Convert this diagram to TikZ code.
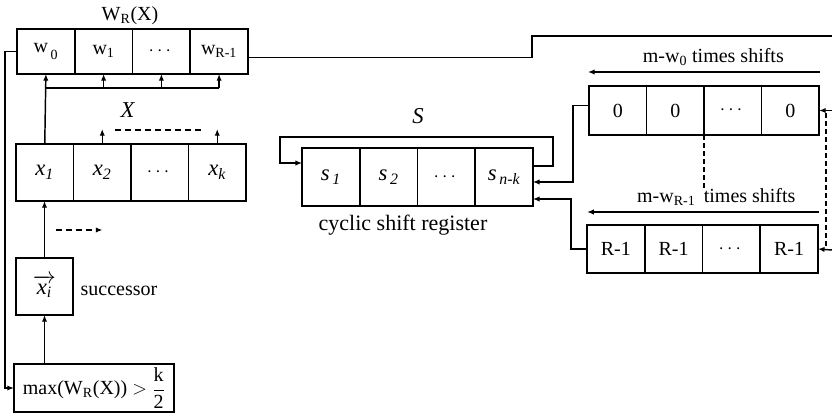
\documentclass[tikz,border=0pt]{standalone}
\usepackage{amsmath}
\usepackage{fontspec}
\setmainfont{Liberation Serif}
\usetikzlibrary{arrows.meta,calc}

\newcommand{\tsub}[2]{#1$_{\text{#2}}$}

\tikzset{every picture/.style={line width=1.1pt}}
\tikzset{
  cell/.style={draw, outer sep=0pt, inner sep=0pt, minimum width=43.2pt},
  bigtext/.style={font=\fontsize{17}{20}\selectfont},
  arr/.style={-{Latex[length=5pt,width=4pt]}},
}

\begin{document}
\begin{tikzpicture}[x=0.75pt,y=0.75pt,yscale=-1,xscale=1,font=\fontsize{15}{18}\selectfont]
				\useasboundingbox (0,0) rectangle (832,414);
				
				%Shape: Register W_R(X)
				\node [cell, minimum height=33.75pt] (w0) at (45.9,51.5) {\raisebox{3pt}{w}$_{\,\text{0}}$};
				\node [cell, minimum height=33.75pt] (w1) at (103.6,51.5) {\tsub{w}{1}};
				\node [cell, minimum height=33.75pt] (wd) at (161.4,51.5) {$\cdots$};
				\node [cell, minimum height=33.75pt] (wR) at (219.1,51.5) {\tsub{w}{R-1}};
				%Shape: Register X
				\node [cell, bigtext, minimum height=42.75pt] (x1) at (44.75,172.5) {\textit{x}$_{\textit{1}}$};
				\node [cell, bigtext, minimum height=42.75pt] (x2) at (102.25,172.5) {\textit{x}$_{\textit{2}}$};
				\node [cell, minimum height=42.75pt] (xd) at (159.75,172.5) {$\cdots$};
				\node [cell, bigtext, minimum height=42.75pt] (xk) at (217.25,172.5) {\textit{x}$_{\textit{k}}$};
				%Shape: Successor
				\node [cell, bigtext, minimum width=42.75pt, minimum height=42.75pt] (succ) at (44.5,286.5) {$\overrightarrow{\textit{x}_{\textit{i}}}$};
				%Shape: Condition
				\node [cell, minimum width=120pt, minimum height=36pt] (maxbox) at (94,388) {max(W$_{\text{R}}$(X)) $>$ $\dfrac{\text{k}}{\text{2}}$};
				%Shape: Register S
				\node [cell, bigtext, minimum height=43.5pt] (s1) at (330.9,177) {\textit{s}$_{\,\textit{1}}$};
				\node [cell, bigtext, minimum height=43.5pt] (s2) at (388.6,177) {\textit{s}$_{\,\textit{2}}$};
				\node [cell, minimum height=43.5pt] (sd) at (446.4,177) {$\cdots$};
				\node [cell, bigtext, minimum height=43.5pt] (sk) at (504.1,177) {\textit{s}$_{\,\textit{n-k}}$};
				%Shape: Register 0
				\node [cell, minimum height=36.75pt] (z1) at (617.75,110.5) {0};
				\node [cell, minimum height=36.75pt] (z2) at (675.25,110.5) {0};
				\node [cell, minimum height=36.75pt] (zd) at (732.75,110.5) {$\cdots$};
				\node [cell, minimum height=36.75pt] (z4) at (790.25,110.5) {0};
				%Shape: Register R-1
				\node [cell, minimum height=36pt] (r1) at (615.9,249) {R-1};
				\node [cell, minimum height=36pt] (r2) at (673.6,249) {R-1};
				\node [cell, minimum height=36pt] (rd) at (731.4,249) {$\cdots$};
				\node [cell, minimum height=36pt] (r4) at (789.1,249) {R-1};
				
				% Free ends at the right border
				\coordinate (wout) at (832,36);
				\coordinate (zin) at (832,110.5);
				\coordinate (rin) at (832,250);
				
				%Straight Lines
				\draw [arr] (w0.west) -- ++(-12,0) |- (maxbox.west);
				%Straight Lines
				\draw ($(wR.east)+(0,6)$) -- (532,57.5) |- (wout);
				%Straight Lines
				\draw [arr] (x1.north) -- (w0.south);
				\draw (w0.south |- 0,88) -- (wR.south |- 0,88);
				\draw [arr] (w1.south |- 0,88) -- (w1.south);
				\draw [arr] (wd.south |- 0,88) -- (wd.south);
				\draw [arr] (wR.south |- 0,88) -- (wR.south);
				%Straight Lines
				\draw [arr] (x2.north) -- ++(0,-15);
				\draw [arr] (xk.north) -- ++(0,-15);
				\draw [dash pattern={on 4.5pt off 3pt}] ($(x2.north)+(13,-14)$) -- ($(xk.north)+(-12,-14)$);
				%Straight Lines
				\draw [arr] (succ.north) -- (succ.north |- x1.south);
				\draw [arr, dash pattern={on 4.5pt off 3pt}] ($(succ.north)+(11,-28)$) -- ++(47,0);
				%Straight Lines
				\draw [arr] (succ.south |- maxbox.north) -- (succ.south);
				%Straight Lines
				\draw [arr] ($(sk.east)+(0,-11)$) -| (553,137) -| (280,163) -- ($(s1.west)+(0,-14)$);
				%Straight Lines
				\draw [arr] ($(z1.west)+(0,-5)$) -| (573,182) -- ($(sk.east)+(0,5)$);
				\draw [arr] (r1.west) -| (571,199) -- ($(sk.east)+(0,22)$);
				%Straight Lines
				\draw [arr] ($(z4.north east)+(1,-14)$) -- ($(z1.north west)+(-1,-14)$) node [midway, above=1pt, xshift=7pt] {m-w$_{\text{0}}$ times shifts};
				\draw [arr] ($(r4.north east)+(1,-13)$) -- ($(r1.north west)+(0,-13)$) node [midway, above=1pt, xshift=10pt] {m-w$_{\text{R-1}}$\, times shifts};
				%Straight Lines
				\draw [dash pattern={on 4pt off 2pt}] (z2.south east) -- ++(0,53);
				\draw [dash pattern={on 4pt off 2pt}] (826,113) -- (826,250);
				\draw [arr] (zin) -- (z4.east);
				\draw [arr] (rin) -- (r4.east);
				
				% Text Node
				\node (wlab) at (130,16) {W$_{\text{R}}$(X)};
				% Text Node
				\node [bigtext] (xlab) at (128,110) {\textit{X}};
				% Text Node
				\node [bigtext] (slab) at (418,116) {\textit{S}};
				% Text Node
				\node [font=\fontsize{16.5}{19}\selectfont] (cyc) at (403,225) {cyclic shift register};
				% Text Node
				\node (suc) at (119,291) {successor};
				
			\end{tikzpicture}
\end{document}
